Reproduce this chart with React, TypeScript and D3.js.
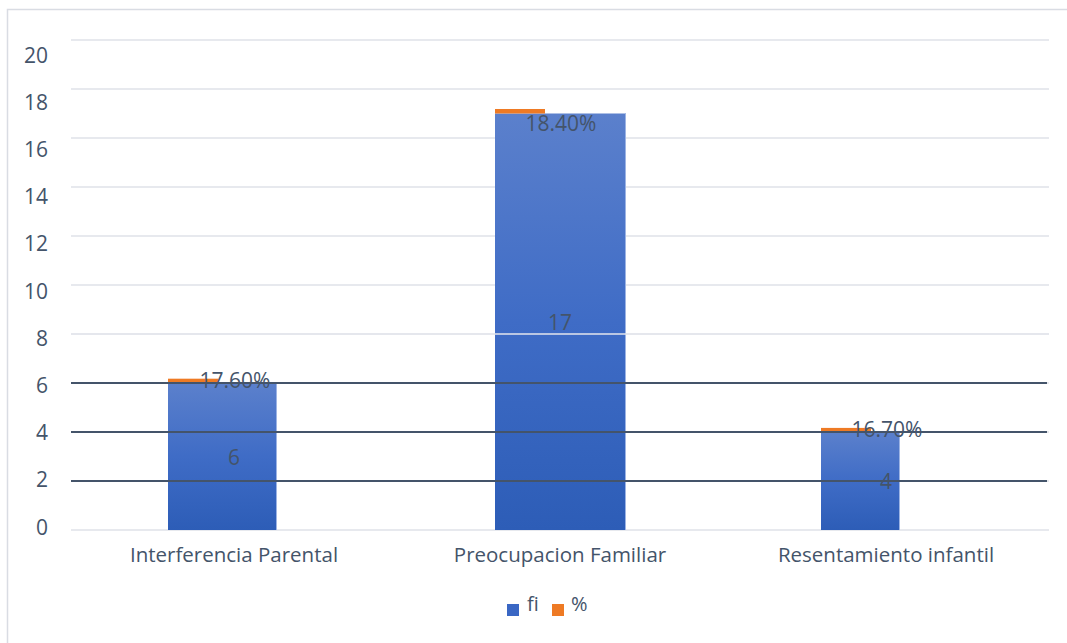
import React from "react";
import * as d3 from "d3";

const categories = ["Interferencia Parental", "Preocupacion Familiar", "Resentamiento infantil"];
const fiValues = [6, 17, 4];
const pctValues = [0.176, 0.184, 0.167];
const pctLabels = ["17.60%", "18.40%", "16.70%"];
const yTicks = [0, 2, 4, 6, 8, 10, 12, 14, 16, 18, 20];
const darkLines = [2, 4, 6];
const overLines = [8];
const seriesNames = ["fi", "%"];

const W = 1067, H = 643;
const plotL = 71, plotR = 1049, plotT = 40, plotB = 530;
const blueWidths = [109, 131, 79];
const barOffsets = [-66, -65, -65];
const pctLabelDy = [0, 13, 0];
const orangeW = 50;
const FONT = "'Open Sans', 'Noto Sans', sans-serif";
const TXT = "#44546A";

export default function App() {
  const x = d3.scaleBand<string>().domain(categories).range([plotL, plotR]).padding(0);
  const y = d3.scaleLinear().domain([0, 20]).range([plotB, plotT]);
  const yLab = d3.scaleLinear().domain([0, 20]).range([527, 55]);
  return (
    <svg width={W} height={H} style={{ position: "absolute", left: 0, top: 0, background: "#fff" }}>
      <defs>
        <linearGradient id="bg" x1="0" y1="0" x2="0" y2="1">
          <stop offset="0" stopColor="#5b80cc" />
          <stop offset="0.5" stopColor="#3f6cc6" />
          <stop offset="1" stopColor="#2d5db7" />
        </linearGradient>
      </defs>
      <rect x={7.5} y={9.5} width={1070} height={650} fill="none" stroke="#d9dce3" strokeWidth={1.5} />
      {yTicks.map((t) => (
        <g key={t}>
          <line x1={plotL} x2={plotR} y1={y(t)} y2={y(t)} stroke="#dfe2e8" strokeWidth={1.5} />
          <text x={48} y={yLab(t) + 7.5} textAnchor="end" fontFamily={FONT} fontSize={21} fill={TXT}>{t}</text>
        </g>
      ))}
      {categories.map((c, i) => {
        const cx = x(c)! + x.bandwidth() / 2;
        const left = cx + barOffsets[i];
        const v = fiValues[i];
        const p = pctValues[i];
        return (
          <g key={c}>
            <rect x={left} y={y(v)} width={blueWidths[i]} height={y(0) - y(v)} fill="url(#bg)" />
            <line x1={left + blueWidths[i] - 0.5} x2={left + blueWidths[i] - 0.5} y1={y(v)} y2={y(0)} stroke="#9db4e4" strokeWidth={1} />
            <rect x={left} y={y(v + p)} width={orangeW} height={y(v) - y(v + p)} fill="#ee7a24" />
          </g>
        );
      })}
      {overLines.map((t) => (
        <line key={t} x1={plotL} x2={plotR} y1={y(t)} y2={y(t)} stroke="#e4e6ec" strokeWidth={1.5} />
      ))}
      {darkLines.map((t) => (
        <line key={t} x1={plotL} x2={plotR - 2} y1={y(t)} y2={y(t)} stroke="#44546A" strokeWidth={2} />
      ))}
      {categories.map((c, i) => {
        const cx = x(c)! + x.bandwidth() / 2;
        const v = fiValues[i];
        const p = pctValues[i];
        return (
          <g key={c + "l"}>
            <text x={cx} y={y(v / 2) + 8} textAnchor="middle" fontFamily={FONT} fontSize={21} fill={TXT}>{v}</text>
            <text x={cx + 1} y={y(v + p / 2) + 7 + pctLabelDy[i]} textAnchor="middle" fontFamily={FONT} fontSize={21} fill={TXT}>{pctLabels[i]}</text>
            <text x={cx} y={y(0) + 32} textAnchor="middle" fontFamily={FONT} fontSize={20.5} fill={TXT}>{c}</text>
          </g>
        );
      })}
      <g>
        <rect x={507} y={604} width={12} height={12} fill="#3a67c4" />
        <text x={527} y={611} fontFamily={FONT} fontSize={20} fill={TXT}>{seriesNames[0]}</text>
        <rect x={552} y={604} width={12} height={12} fill="#ee7a24" />
        <text x={571} y={611} fontFamily={FONT} fontSize={20} fill={TXT}>{seriesNames[1]}</text>
      </g>
    </svg>
  );
}
